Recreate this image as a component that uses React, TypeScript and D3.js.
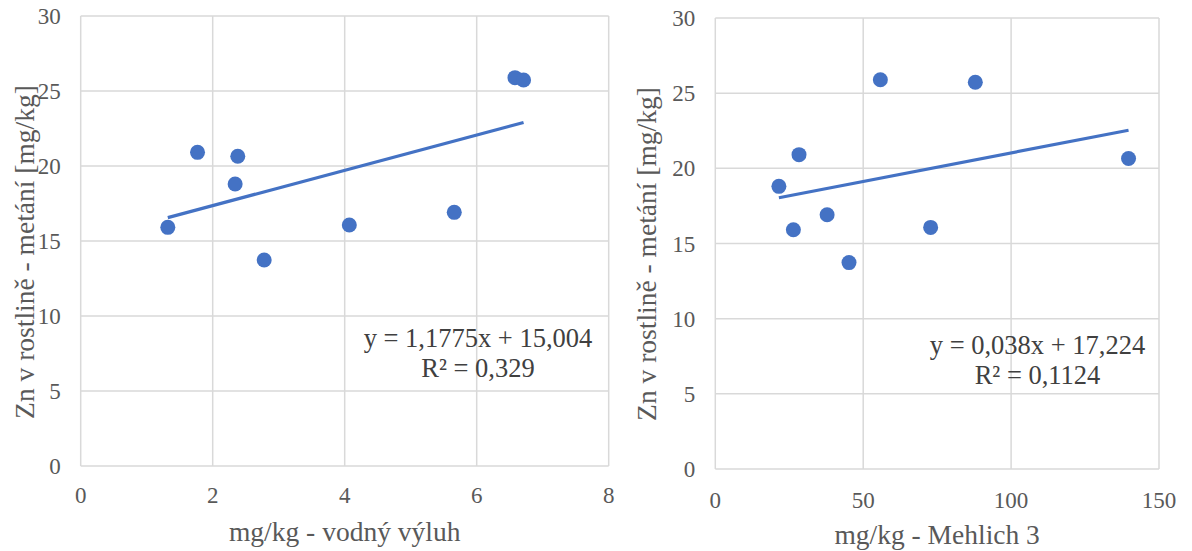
import React from "react";
import * as d3 from "d3";

// ---- Data ----
const znPlant = [20.91, 20.65, 18.8, 15.91, 16.07, 16.91, 25.89, 25.73, 13.73];
const waterExtract = [1.77, 2.38, 2.34, 1.32, 4.07, 5.66, 6.58, 6.71, 2.78];
const mehlich3 = [28.3, 139.7, 21.5, 26.4, 72.8, 37.8, 55.8, 87.9, 45.2];

const yTicks = [0, 5, 10, 15, 20, 25, 30];
const waterTicks = [0, 2, 4, 6, 8];
const mehlichTicks = [0, 50, 100, 150];

const waterFit = [1.1775, 15.004]; // slope, intercept
const mehlichFit = [0.038, 17.224];

const yTitle = "Zn v rostlině - metání [mg/kg]";
const waterTitle = "mg/kg - vodný výluh";
const mehlichTitle = "mg/kg - Mehlich 3";
const waterEq = ["y = 1,1775x + 15,004", "R² = 0,329"];
const mehlichEq = ["y = 0,038x + 17,224", "R² = 0,1124"];

const BLUE = "#4472C4";
const GRID = "#d9d9d9";
const TICK = "#595959";
const FONT = "'Liberation Serif', 'Times New Roman', serif";

type PanelProps = {
  xs: number[];
  ys: number[];
  xTicks: number[];
  fit: number[];
  xTitle: string;
  eq: string[];
  left: number;
  right: number;
  top: number;
  bottom: number;
  yTitleX: number;
  yTitleY: number;
  xTitleY: number;
  xTickY: number;
  eqX: number;
  eqY: number;
};

function Panel(p: PanelProps) {
  const x = d3
    .scaleLinear()
    .domain([p.xTicks[0], p.xTicks[p.xTicks.length - 1]])
    .range([p.left, p.right]);
  const y = d3.scaleLinear().domain([0, 30]).range([p.bottom, p.top]);
  const [xmin, xmax] = d3.extent(p.xs) as [number, number];
  const line = d3
    .line<number>()
    .x((d) => x(d))
    .y((d) => y(p.fit[0] * d + p.fit[1]));
  return (
    <g fontFamily={FONT}>
      {yTicks.map((t) => (
        <line key={"h" + t} x1={p.left} x2={p.right} y1={y(t)} y2={y(t)} stroke={GRID} strokeWidth={1.5} />
      ))}
      {p.xTicks.map((t) => (
        <line key={"v" + t} x1={x(t)} x2={x(t)} y1={p.top} y2={p.bottom} stroke={GRID} strokeWidth={1.5} />
      ))}
      {yTicks.map((t) => (
        <text key={"yl" + t} x={p.left - 20} y={y(t)} dy="0.35em" textAnchor="end" fontSize={23} fill={TICK}>
          {t}
        </text>
      ))}
      {p.xTicks.map((t) => (
        <text key={"xl" + t} x={x(t)} y={p.xTickY} textAnchor="middle" fontSize={23} fill={TICK}>
          {t}
        </text>
      ))}
      <path d={line([xmin, xmax]) || ""} stroke={BLUE} strokeWidth={3.2} fill="none" />
      {p.xs.map((v, i) => (
        <circle key={"p" + i} cx={x(v)} cy={y(p.ys[i])} r={7.5} fill={BLUE} />
      ))}
      <text x={p.eqX} y={p.eqY} textAnchor="middle" fontSize={26.5} fill="#404040">
        <tspan x={p.eqX} dy="0">{p.eq[0]}</tspan>
        <tspan x={p.eqX} dy="30">{p.eq[1]}</tspan>
      </text>
      <text
        transform={`translate(${p.yTitleX},${p.yTitleY}) rotate(-90)`}
        textAnchor="middle"
        dy="0.35em"
        fontSize={27.5}
        fill={TICK}
      >
        {yTitle}
      </text>
      <text x={(p.left + p.right) / 2} y={p.xTitleY} textAnchor="middle" fontSize={27.5} fill={TICK}>
        {p.xTitle}
      </text>
    </g>
  );
}

export default function App() {
  return (
    <svg
      width={1192}
      height={551}
      style={{ position: "absolute", left: 0, top: 0, background: "#fff" }}
    >
      <rect width={1192} height={551} fill="#fff" />
      <Panel
        xs={waterExtract}
        ys={znPlant}
        xTicks={waterTicks}
        fit={waterFit}
        xTitle={waterTitle}
        eq={waterEq}
        left={80.7}
        right={608.7}
        top={16}
        bottom={466}
        yTitleX={24}
        yTitleY={252}
        xTitleY={541}
        xTickY={503}
        eqX={478}
        eqY={347}
      />
      <Panel
        xs={mehlich3}
        ys={znPlant}
        xTicks={mehlichTicks}
        fit={mehlichFit}
        xTitle={mehlichTitle}
        eq={mehlichEq}
        left={715.3}
        right={1159}
        top={18}
        bottom={469}
        yTitleX={646}
        yTitleY={254}
        xTitleY={544}
        xTickY={508}
        eqX={1037.5}
        eqY={354}
      />
    </svg>
  );
}
